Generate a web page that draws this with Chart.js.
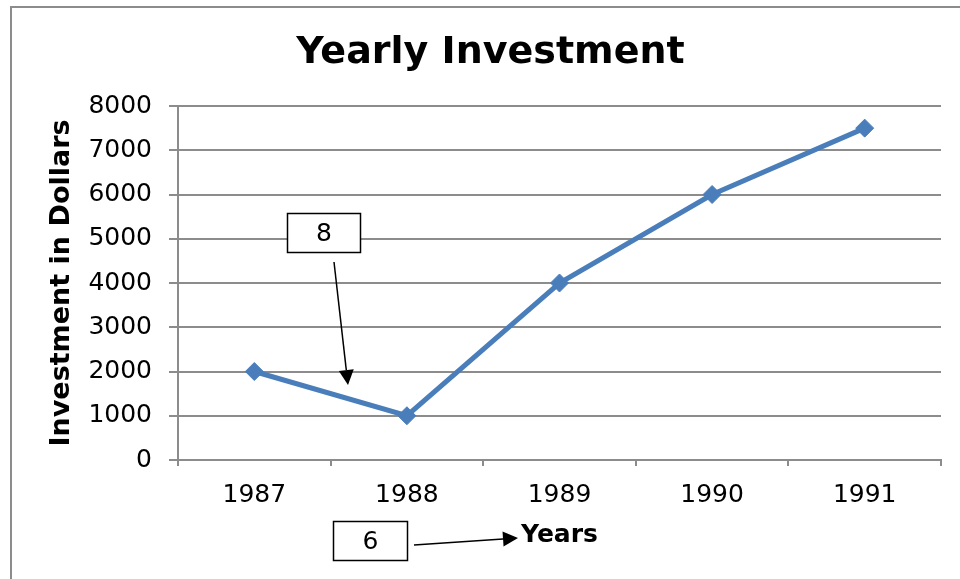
<!DOCTYPE html>
<html>
<head>
<meta charset="utf-8">
<script src="https://cdn.jsdelivr.net/npm/chart.js@4"></script>
<style>
  html, body { margin: 0; padding: 0; background: #ffffff; overflow: hidden; }
  #frame { position: absolute; left: 10px; top: 6px; width: 1000px; height: 1000px;
           border: 2px solid #8c8c8c; box-sizing: border-box; }
  #wrap { position: absolute; left: 0; top: 0; width: 960px; height: 579px; }
</style>
</head>
<body>
<div id="frame"></div>
<div id="wrap"><canvas id="c" width="960" height="579"></canvas></div>
<script>
const years = ['1987', '1988', '1989', '1990', '1991'];
const investment = [2000, 1000, 4000, 6000, 7500];
const yTicks = [0, 1000, 2000, 3000, 4000, 5000, 6000, 7000, 8000];
const chartTitle = 'Yearly Investment';
const yTitle = 'Investment in Dollars';
const xTitle = 'Years';
const calloutTop = '8';
const calloutBottom = '6';

const FONT = "'DejaVu Sans', Verdana, sans-serif";
const GRID = '#8c8c8c';

function arrow(ctx, x1, y1, x2, y2, head) {
  const a = Math.atan2(y2 - y1, x2 - x1);
  const bx = x2 - head * Math.cos(a), by = y2 - head * Math.sin(a);
  ctx.beginPath();
  ctx.moveTo(x1, y1);
  ctx.lineTo(bx, by);
  ctx.stroke();
  const w = head * 0.5;
  ctx.beginPath();
  ctx.moveTo(x2, y2);
  ctx.lineTo(bx + w * Math.sin(a), by - w * Math.cos(a));
  ctx.lineTo(bx - w * Math.sin(a), by + w * Math.cos(a));
  ctx.closePath();
  ctx.fill();
}

function box(ctx, x, y, w, h, text) {
  ctx.fillStyle = '#ffffff';
  ctx.fillRect(x, y, w, h);
  ctx.strokeStyle = '#000000';
  ctx.lineWidth = 1.5;
  ctx.strokeRect(x, y, w, h);
  ctx.fillStyle = '#000000';
  ctx.font = '25px ' + FONT;
  ctx.textAlign = 'center';
  ctx.textBaseline = 'middle';
  ctx.fillText(text, x + w / 2, y + h / 2 + 1);
}

const calloutPlugin = {
  id: 'callouts',
  afterDraw(chart) {
    const ctx = chart.ctx;
    ctx.save();
    box(ctx, 287.5, 213.5, 73, 39, calloutTop);
    ctx.strokeStyle = '#000000';
    ctx.fillStyle = '#000000';
    ctx.lineWidth = 1.5;
    arrow(ctx, 334, 262, 348, 385, 15);
    box(ctx, 333.5, 521.5, 74, 39, calloutBottom);
    ctx.strokeStyle = '#000000';
    ctx.fillStyle = '#000000';
    ctx.lineWidth = 1.5;
    arrow(ctx, 414, 545, 518, 538, 15);
    ctx.restore();
  }
};

new Chart(document.getElementById('c'), {
  type: 'line',
  data: {
    labels: years,
    datasets: [{
      data: investment,
      borderColor: '#4A7EBB',
      backgroundColor: '#4A7EBB',
      borderWidth: 5,
      pointStyle: 'rectRot',
      pointRadius: 9,
      pointBorderWidth: 1,
      pointBackgroundColor: '#4A7EBB',
      pointBorderColor: '#4A7EBB',
      tension: 0,
      fill: false
    }]
  },
  options: {
    responsive: false,
    animation: false,
    devicePixelRatio: 1,
    layout: { padding: { left: 40, right: 19, top: 0, bottom: 0 } },
    plugins: {
      legend: { display: false },
      tooltip: { enabled: false },
      title: {
        display: true,
        text: chartTitle,
        color: '#000000',
        font: { family: FONT, size: 38, weight: 'bold' },
        padding: { top: 30, bottom: 30.4 }
      }
    },
    scales: {
      x: {
        offset: true,
        grid: { offset: true, drawOnChartArea: false, drawTicks: true, tickLength: 6, color: GRID, lineWidth: 2 },
        border: { color: GRID, width: 2 },
        ticks: { color: '#000000', font: { family: FONT, size: 25 }, padding: 14, maxRotation: 0 },
        title: {
          display: true, text: xTitle, color: '#000000',
          font: { family: FONT, size: 25, weight: 'bold' },
          padding: { top: 0, bottom: 29 }
        },
        afterFit(scale) { scale.height = 579 - 460; }
      },
      y: {
        min: 0, max: 8000,
        afterBuildTicks(scale) { scale.ticks = yTicks.map(v => ({ value: v })); },
        grid: { drawTicks: true, tickLength: 9, color: GRID, lineWidth: 2 },
        border: { color: GRID, width: 2 },
        ticks: { color: '#000000', font: { family: FONT, size: 25 }, padding: 17,
                 callback: (v) => String(v) },
        title: {
          display: true, text: yTitle, color: '#000000',
          font: { family: FONT, size: 27, weight: 'bold' },
          padding: { top: 6, bottom: 0 }
        },
        afterFit(scale) { scale.width = 178 - 40; }
      }
    }
  },
  plugins: [calloutPlugin]
});
</script>
</body>
</html>
